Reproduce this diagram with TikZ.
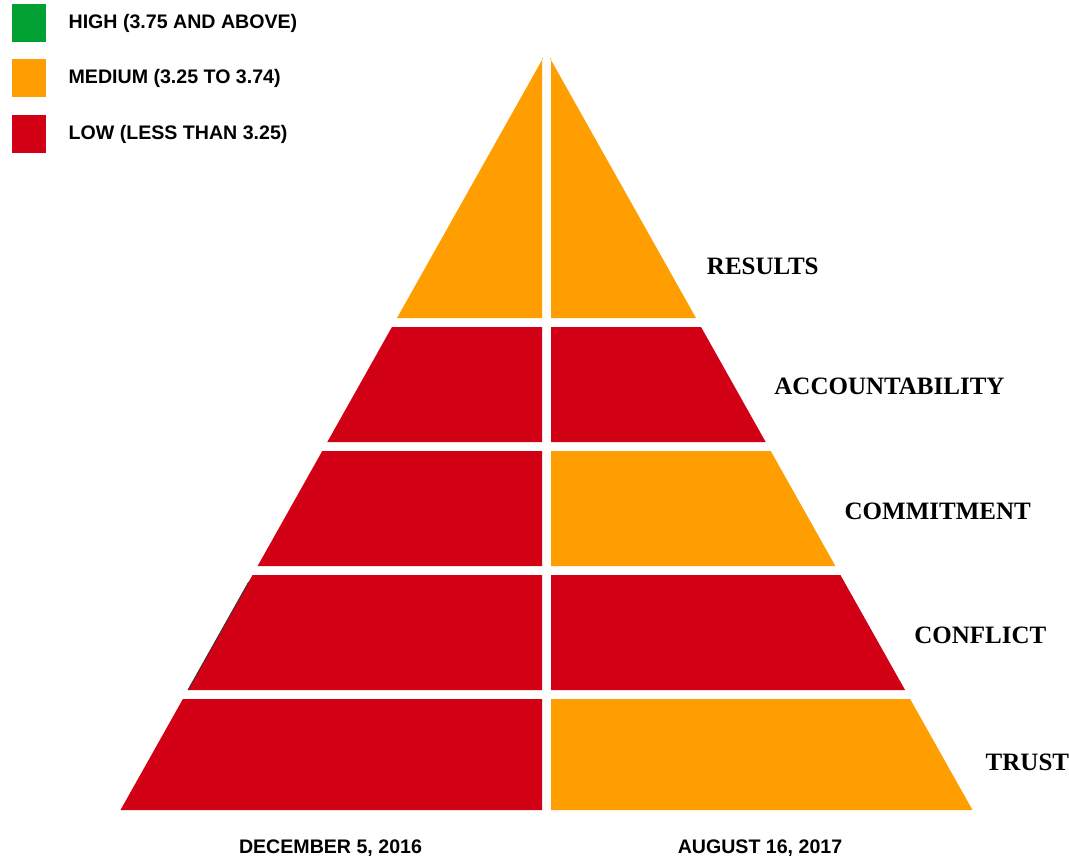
\documentclass[tikz,border=0pt]{standalone}
\usepackage{fontspec}
\setmainfont{Liberation Serif}
\setsansfont{Liberation Sans}
\usetikzlibrary{positioning}

\definecolor{high}{HTML}{00A032}
\definecolor{medium}{HTML}{FF9E00}
\definecolor{low}{HTML}{D20014}

\tikzset{
  keybox/.style={minimum width=34pt, minimum height=38pt, inner sep=0pt, anchor=north west},
  keytext/.style={font=\sffamily\bfseries\fontsize{19.6}{20}\selectfont, inner sep=0pt, anchor=west},
  tier/.style={font=\rmfamily\bfseries\fontsize{25}{26}\selectfont, inner sep=0pt, anchor=west},
  date/.style={font=\sffamily\bfseries\fontsize{19.6}{20}\selectfont, inner sep=0pt}
}

\begin{document}
\begin{tikzpicture}[x=1pt,y=-1pt]
  \useasboundingbox (0,0) rectangle (1069,862);
  \pgfmathsetmacro{\cx}{546.5}
  \pgfmathsetmacro{\ay}{52}
  \pgfmathsetmacro{\s}{0.562}
  \pgfmathsetmacro{\g}{4.5}

  % legend
  \node[keybox, fill=high] (khigh) at (12,4) {};
  \node[keybox, fill=medium] (kmed) at (12,59) {};
  \node[keybox, fill=low] (klow) at (12,115) {};
  \node[keytext, right=22pt of khigh] (thigh) {HIGH (3.75 AND ABOVE)};
  \node[keytext, right=22pt of kmed] (tmed) {MEDIUM (3.25 TO 3.74)};
  \node[keytext, right=22pt of klow] (tlow) {LOW (LESS THAN 3.25)};

  % the two halves, band by band
  \foreach \t/\b/\lc/\rc in {58/318/medium/medium, 327/442/low/low,
      451/566/low/medium, 575/690/low/low, 699/810/low/medium}
  {
    \fill[\lc] ({\cx-\s*(\t-\ay)},\t) -- (\cx-\g,\t) -- (\cx-\g,\b)
      -- ({\cx-\s*(\b-\ay)},\b) -- cycle;
    \fill[\rc] ({\cx+\s*(\t-\ay)},\t) -- (\cx+\g,\t) -- (\cx+\g,\b)
      -- ({\cx+\s*(\b-\ay)},\b) -- cycle;
  }
  % dark rim on the left side of the fourth band
  \draw[black!80, line width=0.8pt] ({\cx-\s*(582-\ay)},582) -- ({\cx-\s*(690-\ay)},690);

  % tier names
  \foreach \m/\name/\txt in {266/results/RESULTS, 386/account/ACCOUNTABILITY,
      511/commit/COMMITMENT, 635/conflict/CONFLICT, 762/trust/TRUST}
    \node[tier] (\name) at ({\cx+\s*(\m-\ay)+40},\m) {\txt};

  \node[date] (before) at (330.5,848) {DECEMBER 5, 2016};
  \node[date] (after) at (760,848) {AUGUST 16, 2017};
\end{tikzpicture}
\end{document}
